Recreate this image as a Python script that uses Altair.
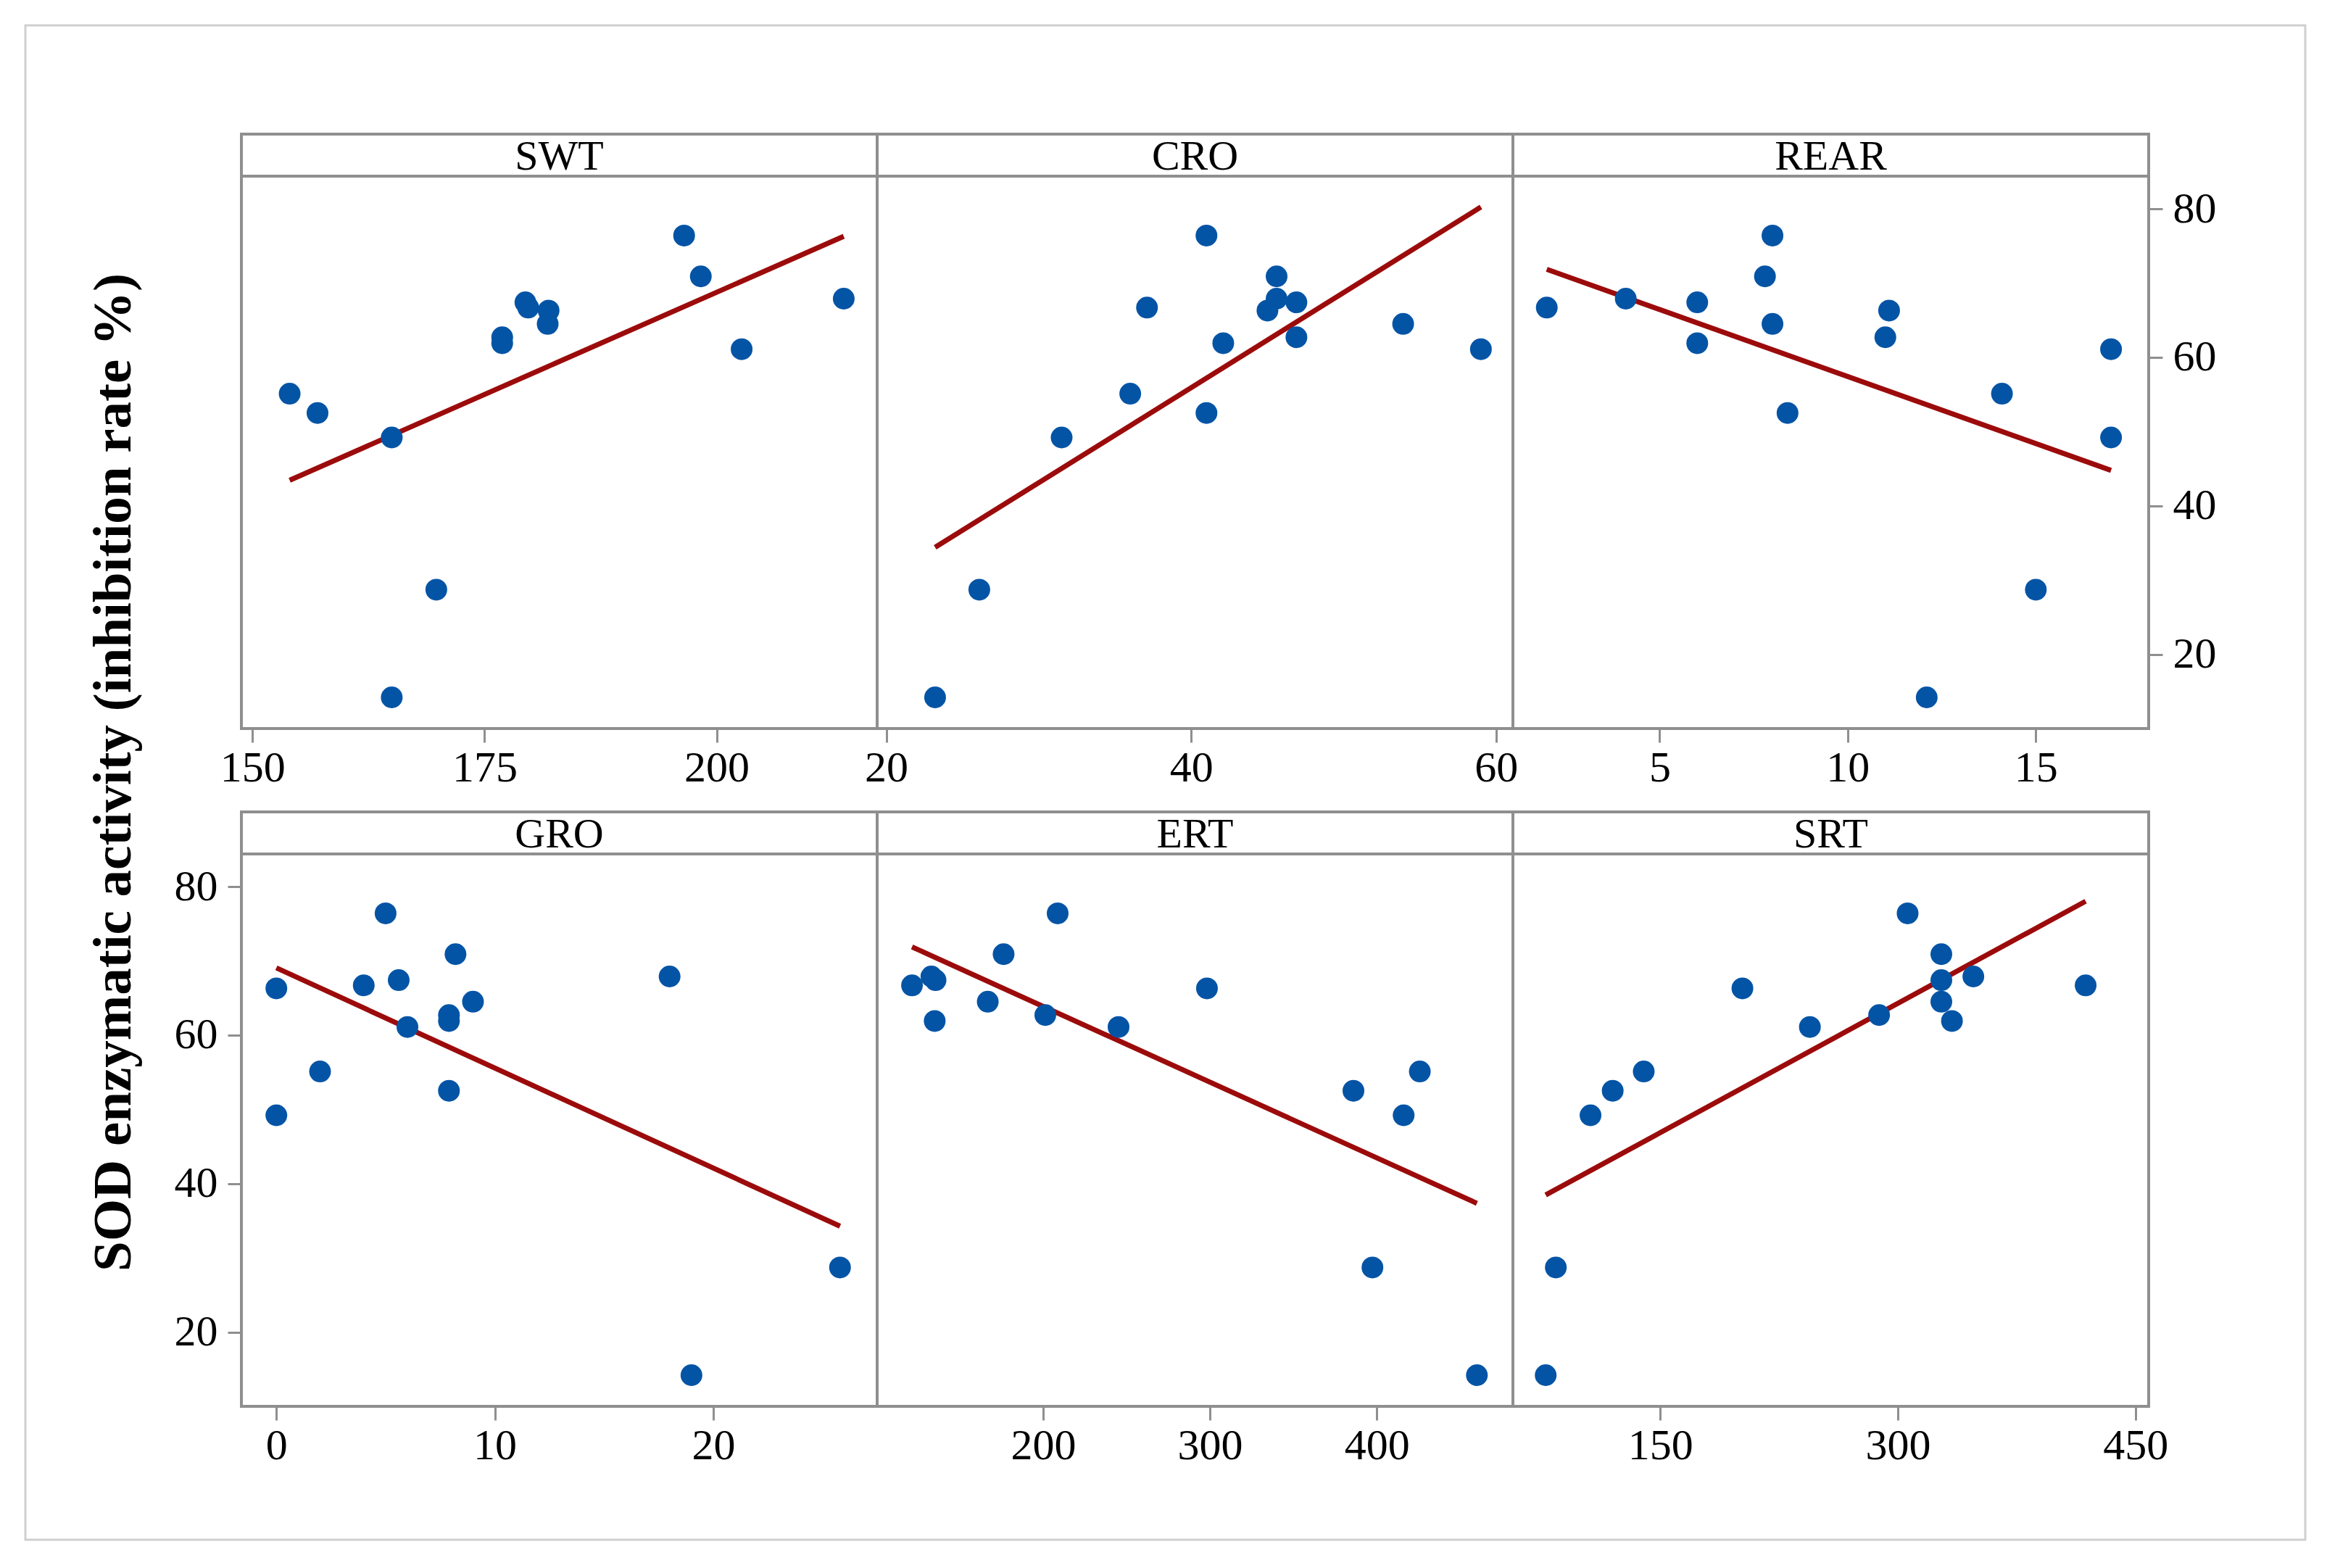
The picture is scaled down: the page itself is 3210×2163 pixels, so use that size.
import altair as alt
import pandas as pd

# ---- data ----
panels = ["SWT", "CRO", "REAR", "GRO", "ERT", "SRT"]
sod = [76.4, 70.9, 67.9, 67.4, 66.7, 66.3, 64.5, 62.7, 61.9, 61.1, 55.1, 52.5, 49.2, 28.7, 14.2]
swt = [196.5, 198.3, 213.7, 179.4, 179.7, 181.9, 181.8, 176.9, 176.9, 202.7, 154.0, 157.0, 165.0, 169.8, 165.0]
cro = [41.0, 45.6, 45.6, 46.9, 37.1, 45.0, 53.9, 46.9, 42.1, 59.0, 36.0, 41.0, 31.5, 26.1, 23.2]
rear = [8.0, 7.8, 4.1, 6.0, 2.0, 11.1, 8.0, 11.0, 6.0, 17.0, 14.1, 8.4, 17.0, 15.0, 12.1]
gro = [5.0, 8.2, 18.0, 5.6, 4.0, 0.0, 9.0, 7.9, 7.9, 6.0, 2.0, 7.9, 0.0, 25.8, 19.0]
ert = [208.7, 176.3, 133.0, 135.5, 121.4, 298.2, 166.8, 201.3, 135.0, 245.2, 425.8, 386.0, 416.1, 397.4, 460.0]
srt = [306.2, 327.5, 347.7, 327.5, 418.6, 201.9, 327.5, 288.2, 334.2, 244.5, 139.6, 120.0, 106.0, 84.1, 77.7]

x_values = {"SWT": swt, "CRO": cro, "REAR": rear, "GRO": gro, "ERT": ert, "SRT": srt}
x_domains = {
    "SWT": [148.8, 217.3], "CRO": [19.4, 61.1], "REAR": [1.1, 18.0],
    "GRO": [-1.6, 27.5], "ERT": [100.5, 481.6], "SRT": [57.0, 458.4],
}
x_ticks = {
    "SWT": [150, 175, 200], "CRO": [20, 40, 60], "REAR": [5, 10, 15],
    "GRO": [0, 10, 20], "ERT": [200, 300, 400], "SRT": [150, 300, 450],
}
y_ticks = [20, 40, 60, 80]
y_title = "SOD enzymatic activity (inhibition rate %)"

BLUE = "#0454A6"
RED = "#9C0B0B"
GRAY = "#8f8f8f"
FONT = "Liberation Serif"
W, H, HH = 877, 762, 58          # panel width, plot height, header strip height
Y_LO, Y_HI = 10.0, 84.4           # data range of the plot area
Y_TOP = Y_LO + (Y_HI - Y_LO) * (H + HH) / H   # scale top incl. header strip


def panel(name, yaxis, frame=False):
    df = pd.DataFrame({"x": x_values[name], "y": sod})
    xenc = alt.X(
        "x:Q",
        scale=alt.Scale(domain=x_domains[name], nice=False, zero=False),
        axis=alt.Axis(values=x_ticks[name], title=None, labelFlush=False,
                      labelOverlap=False, labelPadding=6),
    )
    yenc = alt.Y(
        "y:Q",
        scale=alt.Scale(domain=[Y_LO, Y_TOP], nice=False, zero=False),
        axis=yaxis,
    )
    base = alt.Chart(df)
    line = base.transform_regression("x", "y").mark_line(
        color=RED, strokeWidth=7
    ).encode(x=xenc, y=yenc)
    pts = base.mark_circle(size=900, color=BLUE, opacity=1).encode(x=xenc, y=yenc)
    lab = pd.DataFrame({"label": [name]})
    sep = alt.Chart(lab).mark_rule(color=GRAY, strokeWidth=4).encode(
        x=alt.value(0), x2=alt.value(W), y=alt.value(HH)
    )
    head = alt.Chart(lab).mark_text(
        font=FONT, fontSize=58, color="black", baseline="middle", align="center"
    ).encode(text="label:N", x=alt.value(W / 2), y=alt.value(HH / 2 + 3))
    layers = [line, pts, sep, head]
    if frame:
        layers.append(
            alt.Chart(lab).mark_rect(fill=None, stroke="#cfcfcf", strokeWidth=3, clip=False).encode(
                x=alt.value(-298), x2=alt.value(2847), y=alt.value(-1085), y2=alt.value(1004)
            )
        )
    return alt.layer(*layers).properties(width=W, height=H + HH)


yright = alt.Axis(orient="right", values=y_ticks, title=None, labelPadding=14)
yleft = alt.Axis(orient="left", values=y_ticks, title=None, labelPadding=14)

charts = [
    panel("SWT", None), panel("CRO", None), panel("REAR", yright),
    panel("GRO", yleft, frame=True), panel("ERT", None), panel("SRT", None),
]

chart = alt.concat(*charts, columns=3, spacing={"row": 115, "column": 0}, bounds="flush").properties(
    title=alt.TitleParams(
        text=y_title, orient="left", anchor="middle", font=FONT, fontSize=75,
        fontWeight="bold", color="black", offset=-164, dx=14,
    ),
    padding={"left": 23, "top": 23, "right": 8, "bottom": 8},
).configure_view(
    stroke=GRAY, strokeWidth=4
).configure_axis(
    domain=False, grid=False, ticks=True, tickColor=GRAY, tickWidth=3,
    tickSize=19, labelFont=FONT, labelFontSize=60, labelColor="black",
)

chart.save("out.html", embed_options={"renderer": "svg", "actions": False})
